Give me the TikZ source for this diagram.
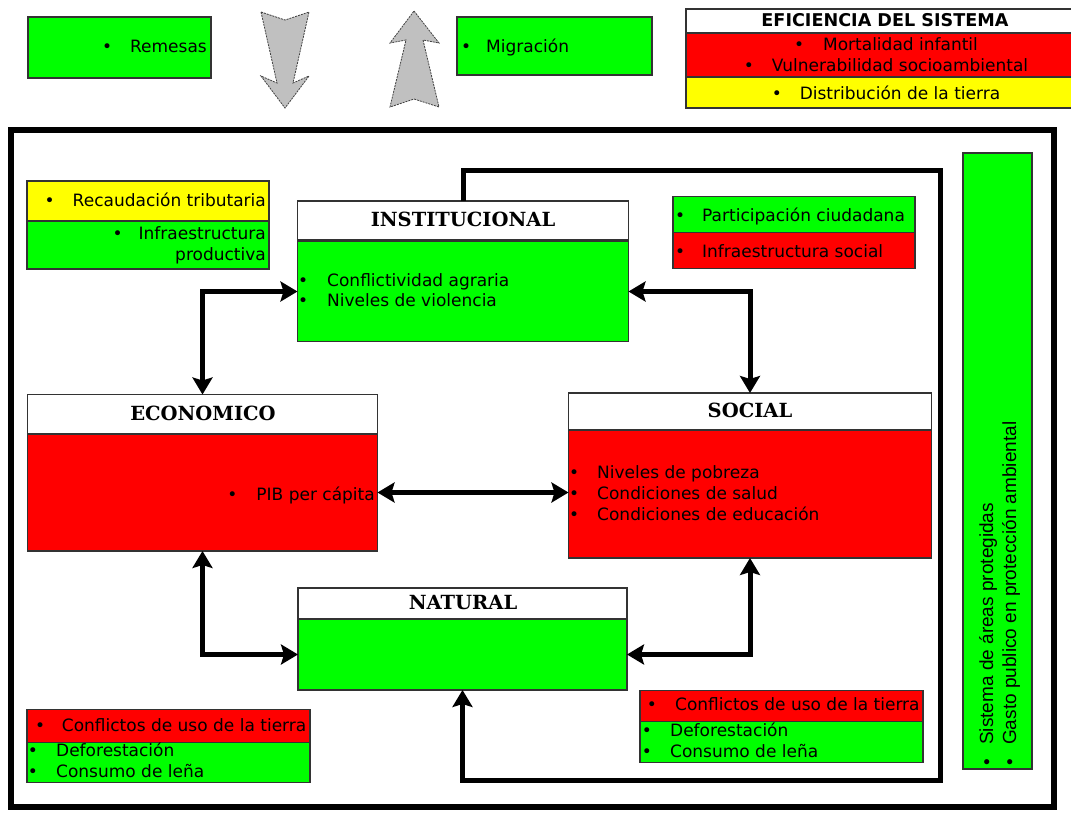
\documentclass[tikz,border=0pt]{standalone}
\usepackage{fontspec}
\setmainfont{DejaVu Sans}
\newfontfamily\headfont{DejaVu Serif}
\newfontfamily\sidefont{Liberation Sans}
\usetikzlibrary{arrows.meta}

\definecolor{grn}{HTML}{00FF00}
\definecolor{rd}{HTML}{FF0000}
\definecolor{yl}{HTML}{FFFF00}
\definecolor{gry}{HTML}{C0C0C0}
\definecolor{edge}{HTML}{333333}

% bullet followed by its text, the bullet sitting in a box of width #1
\newcommand\itm[2]{\makebox[#1][l]{\textbullet}#2}

\begin{document}
\begin{tikzpicture}[x=1pt,y=-1pt,
  panel/.style={draw=edge, line width=1.3pt, inner sep=0pt, outer sep=0pt, anchor=north west},
  txt/.style={inner sep=0pt, font=\fontsize{17}{21}\selectfont, text=black},
  head/.style={inner sep=0pt, font=\headfont\bfseries\fontsize{19.5}{23}\selectfont, text=black},
  side/.style={inner sep=0pt, font=\sidefont\fontsize{19}{22}\selectfont, text=black, rotate=90, anchor=base west},
  tip/.tip={Stealth[length=17pt,width=20pt,inset=3pt]},
  duo/.style={line width=5pt, tip-tip},
  backline/.style={line width=5pt, -tip},
  bigarrow/.style={fill=gry, draw=black!75, line width=0.8pt, dash pattern=on 2pt off 1pt}
]
\useasboundingbox (0,0) rectangle (1071,812);
\fill[white] (0,0) rectangle (1071,812);

% ---- top row -------------------------------------------------------
\node[panel, fill=grn, minimum width=183pt, minimum height=61pt] (remesas) at (28,17) {};
\node[txt, anchor=base east] (tRemesas) at (207,52.7) {\itm{28pt}{Remesas}};

\filldraw[bigarrow] (261,12) -- (285,20) -- (309,12) -- (293,83) -- (309,76)
  -- (285,108) -- (261,76) -- (277,83) -- cycle;
\filldraw[bigarrow] (414,11) -- (439,43) -- (423,40) -- (439,107) -- (414,99)
  -- (390,107) -- (406,40) -- (390,43) -- cycle;

\node[panel, fill=grn, minimum width=195pt, minimum height=58pt] (migra) at (457,17) {};
\node[txt, anchor=base west] (tMigra) at (461,52) {\itm{25pt}{Migración}};

\node[panel, fill=white, minimum width=410pt, minimum height=24pt] (efH) at (686,9) {};
\node[panel, fill=rd, minimum width=410pt, minimum height=44pt] (efR) at (686,33) {};
\node[panel, fill=yl, minimum width=410pt, minimum height=31pt] (efY) at (686,77) {};
\node[txt, anchor=base, font=\bfseries\fontsize{17.6}{21}\selectfont] (tEf) at (885,26.5) {EFICIENCIA DEL SISTEMA};
\node[txt, anchor=base] (tMort) at (886,50) {\itm{29pt}{Mortalidad infantil}};
\node[txt, anchor=base] (tVuln) at (886,71.7) {\itm{28pt}{Vulnerabilidad socioambiental}};
\node[txt, anchor=base] (tDist) at (886,99) {\itm{28pt}{Distribución de la tierra}};

% ---- outer frame ---------------------------------------------------
\draw[line width=6pt] (10.5,130) rectangle (1054,807);

% ---- side lists ----------------------------------------------------
\node[panel, fill=yl, minimum width=242pt, minimum height=40pt] (recY) at (27,181) {};
\node[panel, fill=grn, minimum width=242pt, minimum height=48pt] (recG) at (27,221) {};
\node[txt, anchor=base east] (tRec) at (266,206) {\itm{28pt}{Recaudación tributaria}};
\node[txt, anchor=base east] (tInfP) at (266,239.3) {\itm{26pt}{Infraestructura}};
\node[txt, anchor=base east] (tProd) at (266,260) {productiva};

\node[panel, fill=grn, minimum width=242pt, minimum height=36pt] (partG) at (673,196.5) {};
\node[panel, fill=rd, minimum width=242pt, minimum height=36pt] (partR) at (673,232.5) {};
\node[txt, anchor=base west] (tPart) at (675,221) {\itm{27pt}{Participación ciudadana}};
\node[txt, anchor=base west] (tInfS) at (675,257.7) {\itm{27pt}{Infraestructura social}};

\node[panel, fill=grn, minimum width=69pt, minimum height=616pt] (vbar) at (963,153) {};
\node[side] (tSist) at (993,766) {\itm{21pt}{Sistema de áreas protegidas}};
\node[side] (tGasto) at (1016,766) {\itm{21pt}{Gasto publico en protección ambiental}};

% ---- dimension boxes -----------------------------------------------
\node[panel, fill=white, minimum width=331pt, minimum height=39pt] (instH) at (297.5,201) {};
\node[panel, fill=grn, minimum width=331pt, minimum height=100pt] (instB) at (297.5,241.5) {};
\node[head, anchor=base] (tInst) at (463,226.7) {INSTITUCIONAL};
\node[txt, anchor=base west] (tConfA) at (298,286.7) {\itm{29pt}{Conflictividad agraria}};
\node[txt, anchor=base west] (tViol) at (298,306.7) {\itm{29pt}{Niveles de violencia}};

\node[panel, fill=white, minimum width=350pt, minimum height=39pt] (econH) at (27.5,394.5) {};
\node[panel, fill=rd, minimum width=350pt, minimum height=117pt] (econB) at (27.5,434) {};
\node[head, anchor=base] (tEcon) at (203,420) {ECONOMICO};
\node[txt, anchor=base east] (tPib) at (375,500) {\itm{29pt}{PIB per cápita}};

\node[panel, fill=white, minimum width=363pt, minimum height=37pt] (socH) at (568.5,393) {};
\node[panel, fill=rd, minimum width=363pt, minimum height=128pt] (socB) at (568.5,430) {};
\node[head, anchor=base] (tSoc) at (750,417.3) {SOCIAL};
\node[txt, anchor=base west] (tPob) at (569,478.3) {\itm{28pt}{Niveles de pobreza}};
\node[txt, anchor=base west] (tSal) at (569,499.3) {\itm{28pt}{Condiciones de salud}};
\node[txt, anchor=base west] (tEdu) at (569,520.7) {\itm{28pt}{Condiciones de educación}};

\node[panel, fill=white, minimum width=329pt, minimum height=31pt] (natH) at (298,588) {};
\node[panel, fill=grn, minimum width=329pt, minimum height=71pt] (natB) at (298,619) {};
\node[head, anchor=base] (tNat) at (463,609.3) {NATURAL};

% ---- land-use lists ------------------------------------------------
\node[panel, fill=rd, minimum width=283pt, minimum height=33pt] (blR) at (27,709.5) {};
\node[panel, fill=grn, minimum width=283pt, minimum height=40pt] (blG) at (27,742.5) {};
\node[txt, anchor=base west] (tBlC) at (35,731.7) {\itm{26.7pt}{Conflictos de uso de la tierra}};
\node[txt, anchor=base west] (tBlD) at (27.7,756.7) {\itm{28.3pt}{Deforestación}};
\node[txt, anchor=base west] (tBlL) at (27.7,777.3) {\itm{28.3pt}{Consumo de leña}};

\node[panel, fill=rd, minimum width=283pt, minimum height=31pt] (brR) at (640,690.5) {};
\node[panel, fill=grn, minimum width=283pt, minimum height=41pt] (brG) at (640,721.5) {};
\node[txt, anchor=base west] (tBrC) at (646.7,710.7) {\itm{28.3pt}{Conflictos de uso de la tierra}};
\node[txt, anchor=base west] (tBrD) at (641.7,736.7) {\itm{28.3pt}{Deforestación}};
\node[txt, anchor=base west] (tBrL) at (641.7,757.3) {\itm{28.3pt}{Consumo de leña}};

% ---- connectors ----------------------------------------------------
\draw[duo] (econH.north) |- (instB.west);
\draw[duo] (instB.east) -| (socH.north);
\draw[duo] (econB.east) -- (econB.east -| socB.west);
\draw[duo] (econB.south) |- (natB.west);
\draw[duo] (socB.south) |- (natB.east);

\coordinate (loopTR) at (940,170);
\coordinate (loopBR) at (940,780);
\draw[backline] (instH.north) |- (loopTR) -- (loopBR) -| (natB.south);
\end{tikzpicture}
\end{document}
